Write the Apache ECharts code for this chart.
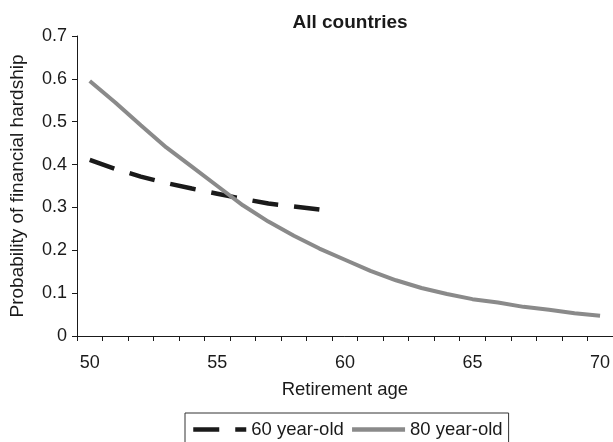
<!DOCTYPE html>
<html>
<head>
<meta charset="utf-8">
<script src="https://cdn.jsdelivr.net/npm/echarts@6/dist/echarts.min.js"></script>
<style>
html,body{margin:0;padding:0;background:#fff;}
#chart{width:613px;height:442px;}
</style>
</head>
<body>
<div id="chart"></div>
<script>
var ages = [50,51,52,53,54,55,56,57,58,59,60,61,62,63,64,65,66,67,68,69,70];
var yearOld60 = [0.411,0.390,0.372,0.357,0.344,0.332,0.320,0.309,0.302,0.295,null,null,null,null,null,null,null,null,null,null,null];
var yearOld80 = [0.595,0.545,0.492,0.440,0.395,0.350,0.305,0.267,0.234,0.204,0.178,0.152,0.130,0.112,0.098,0.086,0.078,0.068,0.061,0.053,0.047];
var yTicks = [0,0.1,0.2,0.3,0.4,0.5,0.6,0.7];
var seriesNames = ['60 year-old','80 year-old'];
var titleText = 'All countries';
var xName = 'Retirement age';
var yName = 'Probability of financial hardship';

var FONT = 'Liberation Sans, Arial, sans-serif';
var chart = echarts.init(document.getElementById('chart'), null, {renderer:'canvas'});
chart.setOption({
  animation:false,
  backgroundColor:'#ffffff',
  title:{
    text:titleText, left:345, top:8, textAlign:'center',
    textStyle:{fontFamily:FONT, fontSize:19, fontWeight:'bold', color:'#1a1a1a'}
  },
  grid:{left:76, top:36, width:539, bottom:106, containLabel:false},
  legend:{
    data:seriesNames, left:185, top:413,
    borderColor:'#333', borderWidth:1, padding:[7,6,7,6],
    itemWidth:53, itemHeight:14, itemGap:6,
    itemStyle:{opacity:0},
    lineStyle:{width:4.5},
    textStyle:{fontFamily:FONT, fontSize:18.5, color:'#1a1a1a'}
  },
  xAxis:{
    type:'category', data:ages.map(String), boundaryGap:true,
    name:xName, nameLocation:'middle', nameGap:44,
    nameTextStyle:{fontFamily:FONT, fontSize:18.5, color:'#1a1a1a'},
    axisLine:{show:true, lineStyle:{color:'#1a1a1a', width:1}},
    axisTick:{show:true, interval:0, length:5, lineStyle:{color:'#1a1a1a'}},
    axisLabel:{interval:4, margin:18, fontFamily:FONT, fontSize:18, color:'#1a1a1a'},
    splitLine:{show:false}
  },
  yAxis:{
    type:'value', min:yTicks[0], max:yTicks[yTicks.length-1], interval:0.1,
    name:yName, nameLocation:'middle', nameGap:50,
    nameTextStyle:{fontFamily:FONT, fontSize:19, color:'#1a1a1a'},
    axisLine:{show:true, lineStyle:{color:'#1a1a1a', width:1}},
    axisTick:{show:true, length:5, lineStyle:{color:'#1a1a1a'}},
    axisLabel:{margin:10, fontFamily:FONT, fontSize:18, color:'#1a1a1a'},
    splitLine:{show:false}
  },
  series:[
    {name:seriesNames[0], type:'line', data:yearOld60, symbol:'none', smooth:false,
     lineStyle:{color:'#1a1a1a', width:4.5, type:[26,16]}, itemStyle:{color:'#1a1a1a'}},
    {name:seriesNames[1], type:'line', data:yearOld80, symbol:'none', smooth:false,
     lineStyle:{color:'#8a8a8a', width:4}, itemStyle:{color:'#8a8a8a'}}
  ]
});
</script>
</body>
</html>
